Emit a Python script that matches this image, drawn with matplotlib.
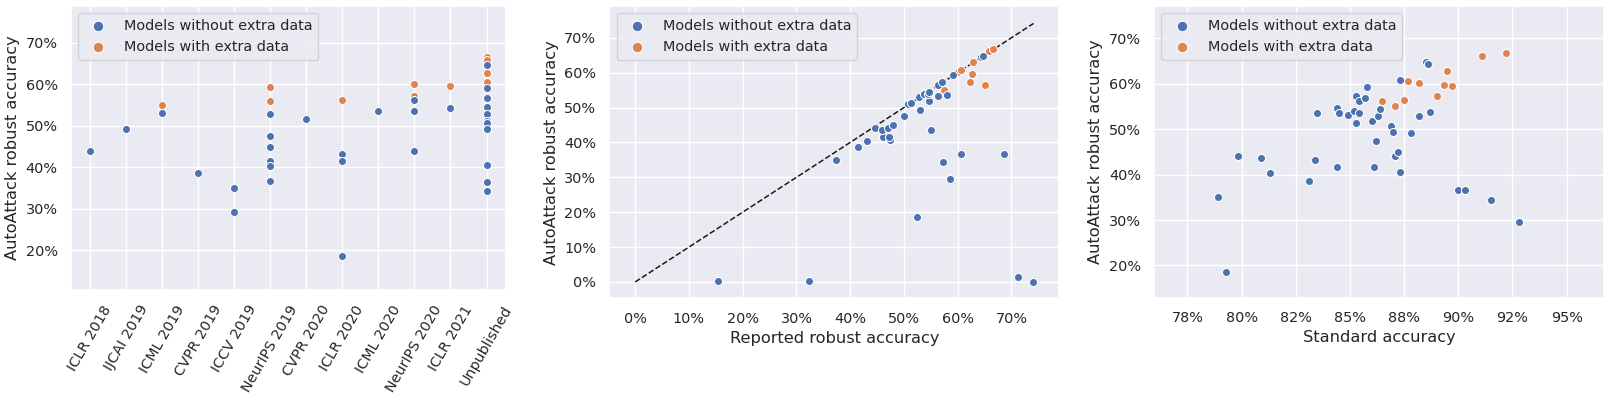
import matplotlib
matplotlib.use("Agg")
import matplotlib.pyplot as plt
from matplotlib.ticker import MultipleLocator, FuncFormatter
import seaborn as sns

# venues (left panel categories)
venues = ['ICLR 2018', 'IJCAI 2019', 'ICML 2019', 'CVPR 2019', 'ICCV 2019',
          'NeurIPS 2019', 'CVPR 2020', 'ICLR 2020', 'ICML 2020',
          'NeurIPS 2020', 'ICLR 2021', 'Unpublished']

# left panel: AutoAttack accuracy per venue
venue_plain = ['ICLR 2018', 'IJCAI 2019', 'ICML 2019', 'CVPR 2019',
               'ICCV 2019', 'ICCV 2019',
               'NeurIPS 2019', 'NeurIPS 2019', 'NeurIPS 2019', 'NeurIPS 2019',
               'NeurIPS 2019', 'NeurIPS 2019',
               'CVPR 2020', 'ICLR 2020', 'ICLR 2020', 'ICLR 2020', 'ICML 2020',
               'NeurIPS 2020', 'NeurIPS 2020', 'NeurIPS 2020', 'NeurIPS 2020',
               'ICLR 2021',
               'Unpublished', 'Unpublished', 'Unpublished', 'Unpublished',
               'Unpublished', 'Unpublished', 'Unpublished', 'Unpublished',
               'Unpublished', 'Unpublished', 'Unpublished', 'Unpublished']
aa_venue_plain = [0.440, 0.491, 0.530, 0.385,
                  0.349, 0.293,
                  0.528, 0.474, 0.448, 0.414, 0.402, 0.366,
                  0.516, 0.432, 0.414, 0.186, 0.534,
                  0.561, 0.537, 0.535, 0.439,
                  0.543,
                  0.645, 0.590, 0.570, 0.566, 0.544, 0.528, 0.512, 0.507,
                  0.492, 0.404, 0.365, 0.342]
venue_extra = ['ICML 2019', 'NeurIPS 2019', 'NeurIPS 2019', 'ICLR 2020',
               'NeurIPS 2020', 'NeurIPS 2020', 'ICLR 2021',
               'Unpublished', 'Unpublished', 'Unpublished', 'Unpublished']
aa_venue_extra = [0.549, 0.594, 0.560, 0.562, 0.600, 0.572, 0.596,
                  0.665, 0.659, 0.627, 0.606]

# middle panel: reported vs AutoAttack
reported_plain = [0.155, 0.323, 0.713, 0.741, 0.374, 0.607, 0.687, 0.573,
                  0.586, 0.524, 0.415, 0.432, 0.474, 0.461, 0.472, 0.446,
                  0.460, 0.471, 0.480, 0.550, 0.501, 0.530, 0.508, 0.513,
                  0.547, 0.528, 0.537, 0.544, 0.546, 0.564, 0.580, 0.563,
                  0.571, 0.592, 0.643, 0.647]
aa_rep_plain = [0.004, 0.004, 0.014, 0.001, 0.350, 0.368, 0.366, 0.343,
                0.295, 0.186, 0.388, 0.404, 0.406, 0.416, 0.416, 0.440,
                0.436, 0.442, 0.450, 0.436, 0.475, 0.493, 0.511, 0.513,
                0.518, 0.529, 0.538, 0.538, 0.544, 0.532, 0.535, 0.564,
                0.572, 0.592, 0.644, 0.647]
reported_extra = [0.575, 0.623, 0.651, 0.626, 0.601, 0.607, 0.628, 0.659, 0.665]
aa_rep_extra = [0.550, 0.573, 0.565, 0.597, 0.603, 0.607, 0.630, 0.662, 0.668]

# right panel: standard vs AutoAttack
clean_plain = [0.789, 0.793, 0.7985, 0.809, 0.813, 0.831, 0.834, 0.835,
               0.844, 0.845, 0.844, 0.849, 0.852, 0.853, 0.854, 0.854,
               0.853, 0.857, 0.858, 0.860, 0.861, 0.862, 0.863, 0.864,
               0.869, 0.870, 0.871, 0.872, 0.873, 0.873, 0.878, 0.882,
               0.885, 0.886, 0.887, 0.8997, 0.903, 0.915, 0.928]
aa_clean_plain = [0.350, 0.186, 0.440, 0.436, 0.403, 0.386, 0.433, 0.535,
                  0.546, 0.536, 0.416, 0.532, 0.539, 0.572, 0.563, 0.535,
                  0.513, 0.569, 0.592, 0.517, 0.416, 0.475, 0.530, 0.545,
                  0.508, 0.494, 0.441, 0.450, 0.405, 0.608, 0.492, 0.530,
                  0.647, 0.644, 0.537, 0.367, 0.365, 0.343, 0.295]
clean_extra = [0.865, 0.871, 0.875, 0.877, 0.882, 0.890, 0.8935, 0.895,
               0.897, 0.911, 0.922]
aa_clean_extra = [0.562, 0.550, 0.564, 0.607, 0.602, 0.572, 0.598, 0.629,
                  0.596, 0.660, 0.667]

sns.set_theme(style='darkgrid')
plt.rcParams['xtick.labelsize'] = 10.4
plt.rcParams['ytick.labelsize'] = 10.4
plt.rcParams['legend.fontsize'] = 10.4
plt.rcParams['axes.labelsize'] = 11.7

blue, orange = sns.color_palette('deep')[0], sns.color_palette('deep')[1]
pct = FuncFormatter(lambda v, p: '{:.0f}%'.format(round(v * 100, 6)))
# 77.5 -> 78, 82.5 -> 82 ... (round half to even, as in the original)
pct_even = FuncFormatter(lambda v, p: '%d%%' % round(round(v * 100, 6)))

fig = plt.figure(figsize=(16.15, 3.96), dpi=100)
ax1 = fig.add_axes([0.0438, 0.2687, 0.2693, 0.7161])
ax2 = fig.add_axes([0.3773, 0.2465, 0.2786, 0.7383])
ax3 = fig.add_axes([0.7146, 0.2482, 0.2788, 0.7366])

kw = dict(s=34, edgecolor='white', linewidth=0.75)


def scatter_pair(ax, xp, yp, xe, ye):
    h2 = ax.scatter(xe, ye, color=orange, label='Models with extra data', **kw)
    h1 = ax.scatter(xp, yp, color=blue, label='Models without extra data', **kw)
    ax.legend(handles=[h1, h2], loc='upper left', markerscale=1.3)


# Left: by venue
xp = [venues.index(v) for v in venue_plain]
xe = [venues.index(v) for v in venue_extra]
scatter_pair(ax1, xp, aa_venue_plain, xe, aa_venue_extra)
ax1.set_xticks(range(len(venues)))
ax1.set_xticklabels(venues, rotation=60)
ax1.set_xlim(-0.53, 11.53)
ax1.set_ylim(0.105, 0.788)
ax1.yaxis.set_major_locator(MultipleLocator(0.1))
ax1.yaxis.set_major_formatter(pct)
ax1.set_ylabel('AutoAttack robust accuracy')

# Middle: reported vs AutoAttack
top = max(reported_plain + reported_extra)
ax2.plot([0, top], [0, top], 'k--', lw=1.1, zorder=1)
scatter_pair(ax2, reported_plain, aa_rep_plain, reported_extra, aa_rep_extra)
ax2.set_xlim(-0.048, 0.789)
ax2.set_ylim(-0.047, 0.791)
ax2.xaxis.set_major_locator(MultipleLocator(0.1))
ax2.yaxis.set_major_locator(MultipleLocator(0.1))
ax2.xaxis.set_major_formatter(pct)
ax2.yaxis.set_major_formatter(pct)
ax2.set_xlabel('Reported robust accuracy')
ax2.set_ylabel('AutoAttack robust accuracy')

# Right: standard vs AutoAttack
scatter_pair(ax3, clean_plain, aa_clean_plain, clean_extra, aa_clean_extra)
ax3.set_xlim(0.7596, 0.9674)
ax3.set_ylim(0.129, 0.771)
ax3.xaxis.set_major_locator(MultipleLocator(0.025))
ax3.yaxis.set_major_locator(MultipleLocator(0.1))
ax3.xaxis.set_major_formatter(pct_even)
ax3.yaxis.set_major_formatter(pct)
ax3.set_xlabel('Standard accuracy')
ax3.set_ylabel('AutoAttack robust accuracy')

fig.savefig('out.png', dpi=100)
